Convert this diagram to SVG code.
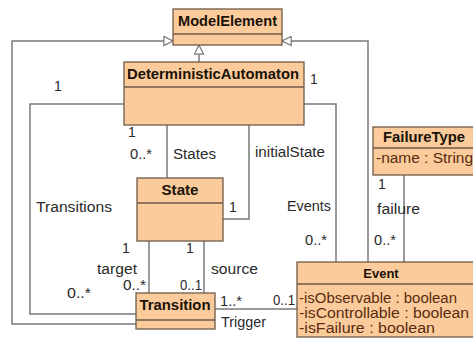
<svg xmlns="http://www.w3.org/2000/svg" width="473" height="347" viewBox="0 0 473 347">
<defs>
<marker id="gen" viewBox="0 0 12 12" refX="11" refY="6" markerWidth="11" markerHeight="11" markerUnits="userSpaceOnUse" orient="auto">
<path d="M1,1 L11,6 L1,11 Z" fill="#fff" stroke="#777" stroke-width="1.3"/>
</marker>
</defs>
<style>
.box{fill:#fbcb9b;stroke:#6e5a48;stroke-width:1.3}
.sep{stroke:#6e5a48;stroke-width:1.3}
.ln{fill:none;stroke:#7a7a7a;stroke-width:1.5}
.t{font-family:"Liberation Sans",Arial,sans-serif;font-size:14px;fill:#2a2a2a}
.b{font-family:"Liberation Sans",Arial,sans-serif;font-size:14px;font-weight:bold;fill:#1a1208}
.a{font-family:"Liberation Sans",Arial,sans-serif;font-size:14px;fill:#5a2c10}
</style>
<rect width="473" height="347" fill="#fff"/>
<g id="connectors">
<path class="ln" d="M137,324 H12 V41 H173" marker-end="url(#gen)"/>
<path class="ln" d="M368,262 V41 H282" marker-end="url(#gen)"/>
<path class="ln" d="M199,62 V45" marker-end="url(#gen)"/>
<path class="ln" d="M124,104 H30 V314 H137"/>
<path class="ln" d="M304,104 H336 V262"/>
<path class="ln" d="M167,125 V178"/>
<path class="ln" d="M249,125 V219 H223"/>
<path class="ln" d="M149,241 V293"/>
<path class="ln" d="M204,241 V293"/>
<path class="ln" d="M404,175 V262"/>
<path class="ln" d="M215,309 H297"/>
<text class="t" x="54" y="91">1</text>
<text class="t" x="310" y="84">1</text>
<text class="t" x="128" y="137">1</text>
<text class="t" x="130" y="159" textLength="22" lengthAdjust="spacingAndGlyphs">0..*</text>
<text class="t" x="173" y="159" textLength="43" lengthAdjust="spacingAndGlyphs">States</text>
<text class="t" x="255" y="157" textLength="70" lengthAdjust="spacingAndGlyphs">initialState</text>
<text class="t" x="36" y="212" textLength="76" lengthAdjust="spacingAndGlyphs">Transitions</text>
<text class="t" x="229" y="212">1</text>
<text class="t" x="287" y="211" textLength="44" lengthAdjust="spacingAndGlyphs">Events</text>
<text class="t" x="378" y="189">1</text>
<text class="t" x="377" y="214" textLength="43" lengthAdjust="spacingAndGlyphs">failure</text>
<text class="t" x="305" y="245" textLength="22" lengthAdjust="spacingAndGlyphs">0..*</text>
<text class="t" x="374" y="245" textLength="22" lengthAdjust="spacingAndGlyphs">0..*</text>
<text class="t" x="122" y="253">1</text>
<text class="t" x="186" y="253">1</text>
<text class="t" x="97" y="274" textLength="40" lengthAdjust="spacingAndGlyphs">target</text>
<text class="t" x="211" y="274" textLength="47" lengthAdjust="spacingAndGlyphs">source</text>
<text class="t" x="123" y="290" textLength="23" lengthAdjust="spacingAndGlyphs">0..*</text>
<text class="t" x="180" y="290" textLength="22" lengthAdjust="spacingAndGlyphs">0..1</text>
<text class="t" x="67" y="298" textLength="24" lengthAdjust="spacingAndGlyphs">0..*</text>
<text class="t" x="220" y="306" textLength="22" lengthAdjust="spacingAndGlyphs">1..*</text>
<text class="t" x="273" y="305" textLength="22" lengthAdjust="spacingAndGlyphs">0..1</text>
<text class="t" x="221" y="327" textLength="45" lengthAdjust="spacingAndGlyphs">Trigger</text>
</g>
<g id="ModelElement">
<rect class="box" x="173" y="9" width="109" height="36"/>
<line class="sep" x1="173" y1="34" x2="282" y2="34"/>
<text class="b" x="227.5" y="26" text-anchor="middle" textLength="99" lengthAdjust="spacingAndGlyphs">ModelElement</text>
</g>
<g id="DeterministicAutomaton">
<rect class="box" x="124" y="62" width="180" height="63"/>
<line class="sep" x1="124" y1="87" x2="304" y2="87"/>
<text class="b" x="213" y="79" text-anchor="middle" textLength="172" lengthAdjust="spacingAndGlyphs">DeterministicAutomaton</text>
</g>
<g id="State">
<rect class="box" x="137" y="178" width="86" height="63"/>
<line class="sep" x1="137" y1="203" x2="223" y2="203"/>
<text class="b" x="180" y="195" text-anchor="middle" textLength="37" lengthAdjust="spacingAndGlyphs">State</text>
</g>
<g id="Transition">
<rect class="box" x="136" y="293" width="79" height="36"/>
<line class="sep" x1="136" y1="320" x2="215" y2="320"/>
<text class="b" x="175" y="310" text-anchor="middle" textLength="71" lengthAdjust="spacingAndGlyphs">Transition</text>
</g>
<g id="FailureType">
<rect class="box" x="373" y="127" width="104" height="48"/>
<line class="sep" x1="373" y1="148" x2="477" y2="148"/>
<text class="b" x="424" y="142" text-anchor="middle" textLength="82" lengthAdjust="spacingAndGlyphs">FailureType</text>
<text class="a" x="376" y="163" textLength="97" lengthAdjust="spacingAndGlyphs">-name : String</text>
</g>
<g id="Event">
<rect class="box" x="297" y="262" width="180" height="75"/>
<line class="sep" x1="297" y1="284" x2="477" y2="284"/>
<text class="b" x="381" y="278" text-anchor="middle" style="font-size:13px">Event</text>
<text class="a" x="299" y="303" textLength="158" lengthAdjust="spacingAndGlyphs">-isObservable : boolean</text>
<text class="a" x="299" y="318" textLength="170" lengthAdjust="spacingAndGlyphs">-isControllable : boolean</text>
<text class="a" x="299" y="333" textLength="136" lengthAdjust="spacingAndGlyphs">-isFailure : boolean</text>
</g>
</svg>
